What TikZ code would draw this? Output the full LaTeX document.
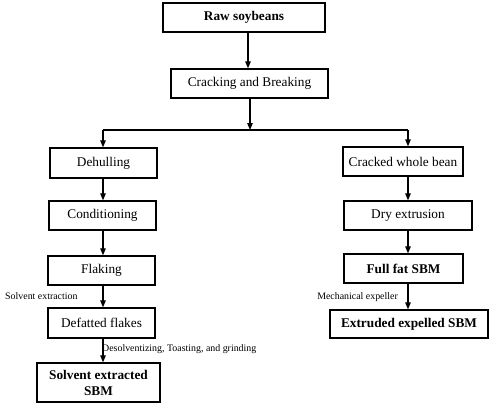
\documentclass[tikz,border=0pt]{standalone}
\usepackage{fontspec}
\setmainfont{Liberation Serif}
\usetikzlibrary{arrows.meta}
\begin{document}
\begin{tikzpicture}[x=1pt,y=-1pt,
  box/.style={draw,line width=1.3pt,inner sep=0pt,align=center,font=\fontsize{13.3}{16}\selectfont},
  bbox/.style={box,font=\fontsize{13.3}{16}\selectfont\bfseries},
  arr/.style={line width=1.1pt,-{Triangle[length=7pt,width=5.5pt]}},
  lbl/.style={inner sep=0pt,font=\fontsize{9.9}{11}\selectfont}]
\useasboundingbox (0,0) rectangle (493,408);
\node[bbox,minimum width=162pt,minimum height=29pt] (raw) at (244,17.5) {Raw soybeans};
\node[box,minimum width=157pt,minimum height=29pt] (crack) at (249.5,83.5) {Cracking and Breaking};
\node[box,minimum width=107pt,minimum height=30pt] (dehull) at (103.5,163) {Dehulling};
\node[box,minimum width=107pt,minimum height=29pt] (cond) at (102.5,215.5) {Conditioning};
\node[box,minimum width=107pt,minimum height=29pt] (flak) at (101.5,270.5) {Flaking};
\node[box,minimum width=107pt,minimum height=30pt] (defat) at (101.5,323) {Defatted flakes};
\node[bbox,minimum width=123pt,minimum height=39pt] (sesbm) at (98.5,382.5) {Solvent extracted\\SBM};
\node[box,minimum width=120pt,minimum height=29pt] (cwb) at (403,161.5) {Cracked whole bean};
\node[box,minimum width=128pt,minimum height=29pt] (dry) at (408,215.5) {Dry extrusion};
\node[bbox,minimum width=119pt,minimum height=29pt] (ff) at (403.5,268.5) {Full fat SBM};
\node[bbox,minimum width=158pt,minimum height=28pt] (ee) at (409,324) {Extruded expelled SBM};
\coordinate (j) at (250,130);
\coordinate (lx) at (103,130);
\coordinate (rx) at (408,130);
\draw[arr] (raw.south -| 248,0) -- (crack.north -| 248,0);
\draw[arr] (crack.south -| j) -- (j);
\draw[line width=1.1pt] (lx) -- (rx);
\draw[arr] (lx) -- (dehull.north -| lx);
\draw[arr] (rx) -- (cwb.north -| rx);
\draw[arr] (dehull.south -| lx) -- (cond.north -| lx);
\draw[arr] (cond.south -| lx) -- (flak.north -| lx);
\draw[arr] (flak.south -| lx) -- (defat.north -| lx);
\draw[arr] (defat.south -| lx) -- (sesbm.north -| lx);
\draw[arr] (cwb.south -| rx) -- (dry.north -| rx);
\draw[arr] (dry.south -| rx) -- (ff.north -| rx);
\draw[arr] (ff.south -| rx) -- (ee.north -| rx);
\node[lbl,anchor=west] (l1) at (5,296) {Solvent extraction};
\node[lbl,anchor=west] (l2) at (102,349) {Desolventizing, Toasting, and grinding};
\node[lbl,anchor=east] (l3) at (398,297) {Mechanical expeller};
\end{tikzpicture}
\end{document}
